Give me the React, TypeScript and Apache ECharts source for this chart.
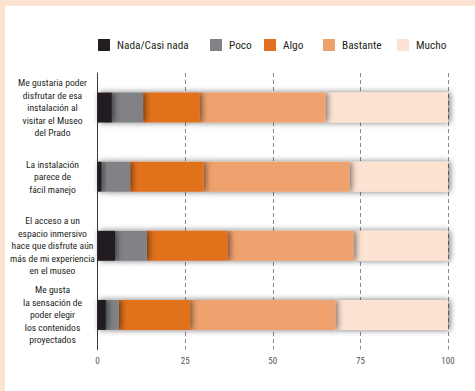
import React, { useEffect, useRef } from "react";
import * as echarts from "echarts";

const categories = [
  "Me gustaria poder\ndisfrutar de esa\ninstalación al\nvisitar el Museo\ndel Prado",
  "La instalación\nparece de\nfácil manejo",
  "El acceso a un\nespacio inmersivo\nhace que disfrute aún\nmás de mi experiencia\nen el museo",
  "Me gusta\nla sensación de\npoder elegir\nlos contenidos\nproyectados",
];

const seriesNames = ["Nada/Casi nada", "Poco", "Algo", "Bastante", "Mucho"];

const nada = [4.1, 1.2, 5.0, 2.4];
const poco = [8.9, 8.1, 9.1, 3.7];
const algo = [16.2, 21.0, 23.1, 20.3];
const bastante = [35.8, 41.6, 35.9, 41.5];
const mucho = [35.0, 28.1, 26.9, 32.1];

const seriesData = [nada, poco, algo, bastante, mucho];
const colors = ["#231f20", "#808285", "#e2711f", "#efa26e", "#fde3d2"];

const xTicks = [0, 25, 50, 75, 100];

const legendLeft = [98, 210, 264, 323, 397];

const FONT = "'Roboto Condensed', 'Liberation Sans Narrow', Arial, sans-serif";

export default function App() {
  const ref = useRef<HTMLDivElement>(null);

  useEffect(() => {
    if (!ref.current) return;
    const chart = echarts.init(ref.current, null, { renderer: "svg" });

    chart.setOption({
      animation: false,
      backgroundColor: "#ffffff",
      graphic: [
        { type: "rect", shape: { x: 0, y: 0, width: 475, height: 6 }, style: { fill: "#fde3d2" }, silent: true, z: -10 },
        { type: "rect", shape: { x: 0, y: 0, width: 5, height: 391 }, style: { fill: "#fde3d2" }, silent: true, z: -10 },
      ],
      legend: seriesNames.map((name, i) => ({
        data: [name],
        left: legendLeft[i],
        top: 39,
        itemWidth: 12,
        itemHeight: 12,
        itemGap: 0,
        padding: 0,
        icon: "rect",
        selectedMode: false,
        textStyle: { fontFamily: FONT, fontSize: 11.3, color: "#231f20", padding: [0, 0, 0, 2] },
      })),
      grid: { left: 97.5, right: 27, top: 73, bottom: 41.5, containLabel: false, outerBoundsMode: "none" },
      xAxis: {
        type: "value",
        min: 0,
        max: 100,
        interval: 25,
        axisLine: { show: false },
        axisTick: { show: false },
        splitLine: { show: true, lineStyle: { type: [4, 3], color: "#8a8a8a", width: 1 } },
        axisLabel: {
          margin: 7,
          fontFamily: FONT,
          fontSize: 9,
          color: "#555555",
          formatter: (v: number) => (xTicks.includes(v) ? String(v) : ""),
        },
      },
      yAxis: {
        type: "category",
        data: categories,
        inverse: true,
        axisLine: { show: true, lineStyle: { color: "#3a3a3a", width: 1 } },
        axisTick: { show: false },
        axisLabel: {
          margin: 45,
          align: "center",
          fontFamily: FONT,
          fontSize: 9.6,
          lineHeight: 12.5,
          color: "#231f20",
          formatter: (v: string) => v,
        },
      },
      series: seriesNames.map((name, i) => ({
        name,
        type: "bar",
        stack: "total",
        data: seriesData[i],
        barWidth: 30,
        z: 10 - i,
        itemStyle: {
          color: colors[i],
          shadowBlur: 6,
          shadowOffsetX: 2,
          shadowOffsetY: 0,
          shadowColor: "rgba(0,0,0,0.55)",
        },
      })),
    });

    return () => chart.dispose();
  }, []);

  return <div ref={ref} style={{ width: 475, height: 391, position: "absolute", left: 0, top: 0 }} />;
}
